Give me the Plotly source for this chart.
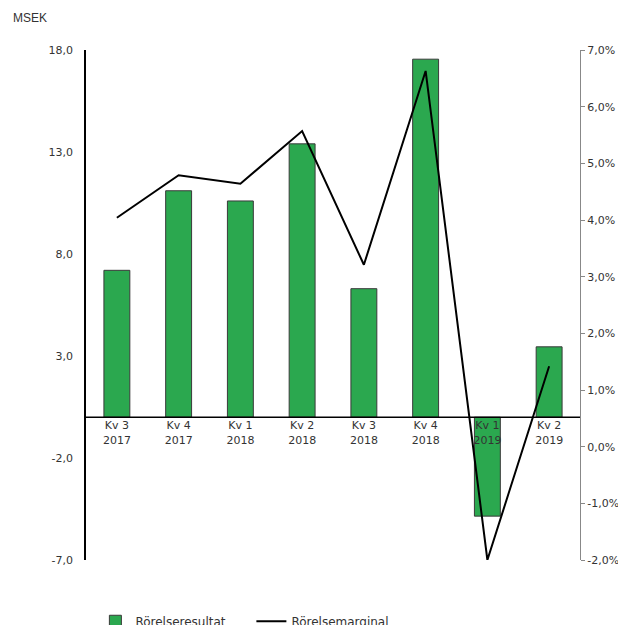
import plotly.graph_objects as go

categories = ["Kv 3<br>2017", "Kv 4<br>2017", "Kv 1<br>2018", "Kv 2<br>2018",
              "Kv 3<br>2018", "Kv 4<br>2018", "Kv 1<br>2019", "Kv 2<br>2019"]
rorelseresultat = [7.2, 11.1, 10.6, 13.4, 6.3, 17.55, -4.85, 3.45]
rorelsemarginal = [0.0404, 0.0479, 0.0464, 0.0557, 0.0321, 0.0663, -0.0200, 0.0142]
left_ticks = [-7, -2, 3, 8, 13, 18]
right_ticks = [-0.02, -0.01, 0.0, 0.01, 0.02, 0.03, 0.04, 0.05, 0.06, 0.07]

left_text = [f"{v:.1f}".replace(".", ",") for v in left_ticks]
right_text = [f"{v*100:.1f}%".replace(".", ",") for v in right_ticks]

font_family = "DejaVu Sans"
txt = "#333333"

fig = go.Figure()
fig.add_trace(go.Bar(
    x=categories, y=rorelseresultat, name="Rörelseresultat",
    marker=dict(color="#2BA84F", line=dict(color="#3a3a3a", width=1)),
    width=0.42, yaxis="y",
))
fig.add_trace(go.Scatter(
    x=categories, y=rorelsemarginal, name="Rörelsemarginal",
    mode="lines", line=dict(color="black", width=2), yaxis="y2",
))

fig.add_shape(type="line", xref="paper", yref="y", x0=0, x1=1, y0=0, y1=0,
              line=dict(color="black", width=1.5), layer="above")

fig.update_layout(
    width=626, height=625,
    margin=dict(l=78, r=54, t=42, b=73, autoexpand=False),
    plot_bgcolor="white", paper_bgcolor="white",
    font=dict(family=font_family, size=11, color=txt),
    showlegend=True,
    legend=dict(orientation="h", x=0.019, xanchor="left",
                yref="container", y=0.042, yanchor="top",
                entrywidth=111, entrywidthmode="pixels",
                font=dict(size=12, color=txt), itemwidth=30, traceorder="normal"),
    xaxis=dict(
        type="category", range=[-0.5, 7.5], anchor="free", position=7/25,
        showline=False, showgrid=False,
        ticks="", tickfont=dict(size=11, color=txt), zeroline=False,
        automargin=False,
    ),
    yaxis=dict(
        range=[-7, 18], tickvals=left_ticks, ticktext=left_text,
        showline=True, linecolor="black", linewidth=1.5, showgrid=False,
        zeroline=False, ticks="", ticklabelstandoff=9,
        tickfont=dict(size=11, color=txt), automargin=False,
    ),
    yaxis2=dict(
        range=[-0.02, 0.07], tickvals=right_ticks, ticktext=right_text,
        overlaying="y", side="right", anchor="x", showline=True,
        linecolor="#888888", linewidth=1, showgrid=False, zeroline=False,
        ticks="outside", ticklen=4, tickcolor="#888888",
        tickfont=dict(size=11, color=txt), automargin=False,
    ),
    annotations=[dict(
        text="MSEK", xref="paper", yref="paper", x=-0.152, y=1.063,
        xanchor="left", yanchor="middle", showarrow=False,
        font=dict(family="Liberation Sans", size=12, color=txt),
    )],
)

fig.write_html("out.html")
